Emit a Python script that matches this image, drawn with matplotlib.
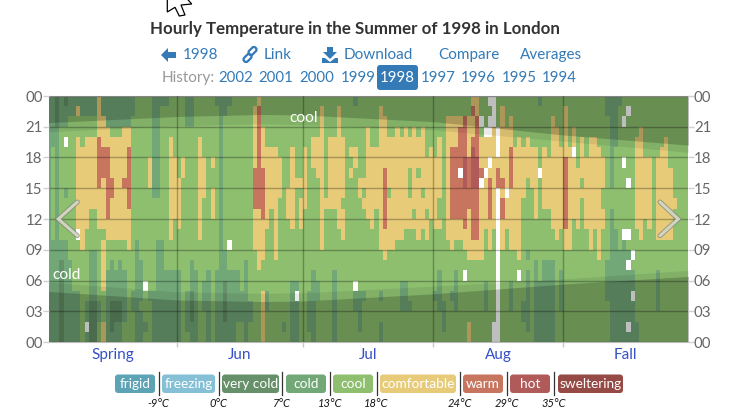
import numpy as np
import matplotlib
matplotlib.use('Agg')
import matplotlib.pyplot as plt
from matplotlib.colors import ListedColormap
from matplotlib.patches import FancyBboxPatch, Polygon
from matplotlib.transforms import Affine2D

plt.rcParams['font.family'] = 'Lato'

# each day is written top to bottom (hour 23 down to hour 0) as runs of a category
# g cool, k cold, v very cold, y comfortable, r warm, h hot, _ no reading
may_days = [
    "k24", "k5 g9 k10", "v3 k21", "k3 g11 k2 v8", "v1 k2 g1 _1 g4 k1 g4 k10", "k2 g14 k8",
    "k2 g17 k5", "k1 y1 g2 y9 _1 g5 k5", "k2 g3 y10 g9", "k2 g2 y9 g7 k2 _1 k1",
    "k2 g2 y7 g4 k5 v4", "k2 g2 y7 g4 k5 v4", "y4 r5 y4 g7 k2 g2", "k2 y3 r3 y5 g1 y5 g3 y2",
    "k3 y2 r7 y2 g3 k7", "k3 g1 y4 r2 y4 g2 k4 v3 k1", "k3 g1 y10 g3 k3 v2 k2",
    "k3 g1 y10 g2 k4 v2 k2", "k3 y5 r1 y5 g3 k5 g2", "k3 y2 r6 y4 g9", "k2 g17 k2 g3",
    "g14 k10", "g16 k4 g1 k3", "g18 _1 g3 k1 g1", "g6 y3 g10 k1 g4", "k10 g9 k5",
    "k10 g4 k10", "k1 g13 k10", "k1 g16 k7", "g4 y10 g3 k7", "g6 y6 g5 k7",
]
jun_days = [
    "g8 y5 g4 k7", "g6 y2 g16", "k3 g16 k4 g1", "k3 g13 k3 v3 k2", "g17 k7", "g4 y10 g10",
    "g6 y4 g8 k3 g3", "g17 k7", "g6 y1 g2 y3 g12", "k1 g16 k7", "k24", "k2 g13 k3 v4 k2",
    "k1 g13 _1 g2 k7", "g17 k7", "g17 k5 g2", "g19 k3 g2", "g16 k8", "g20 k2 g2",
    "g1 y6 r4 y4 g9", "y1 r10 y6 g7", "g3 y4 r5 y4 g3 y5", "g5 y8 g6 k2 g3", "g5 y6 g13",
    "g5 y11 g8", "g6 y4 g14", "g22 k1 g1", "g9 y3 g12", "g5 y8 g5 k6", "g8 y1 g9 k1 _1 k4",
    "g8 y1 g1 y3 g11",
]
jul_days = [
    "g5 y6 g13", "g19 k4 g1", "g4 y3 g10 k7", "g4 y4 g10 k2 g4", "g1 y14 g9", "g10 y1 g13",
    "g4 y7 g13", "g4 y7 g6 k7", "g1 y12 g11", "g4 y6 g1 y3 g10", "g24", "g5 y1 g1 y1 g16",
    "k1 g4 y2 g11 _1 k2 g3", "g8 y2 g9 k4 g1", "g8 y1 g1 y1 g8 k1 g4", "g3 y9 g12", "g5 y8 g11",
    "g5 y6 g13", "g1 y14 g4 k1 g2 k2", "g2 y5 r6 y3 g8", "g4 y5 g1 y5 g9", "g4 y11 g9",
    "g3 y11 g10", "g4 y10 g4 k3 g3", "g3 y10 g5 k3 g3", "g4 y3 g3 y3 g7 k1 g3",
    "g3 y8 g1 y1 g11", "g4 y3 g1 y6 g10", "g3 y6 g1 y3 g11", "g6 y5 g1 y2 g10", "g5 y7 g12",
]
aug_days = [
    "g6 y7 g6 k1 g4", "g4 y6 g2 y1 g4 k4 g3", "g20 k3 g1", "g2 y12 g10",
    "g2 y3 r7 y3 g4 k1 g4", "g2 y3 r7 y2 g3 k4 g3", "g2 y1 r4 _1 r4 y2 g10",
    "g2 r4 h3 r4 y2 g2 _1 g6", "g2 y4 r5 y5 g6 y2", "y1 r1 y2 r1 h4 r5 y2 g8", "y2 r4 h3 r5 y2 g8",
    "g2 _1 g1 y3 r1 _1 y7 g8", "g3 _1 y3 _1 y5 g5 k3 g3", "_1 g1 _2 y2 _1 y1 r4 y3 g9",
    "_3 y10 g9 _2", "g3 _3 y1 r2 _15", "g1 y7 r1 y1 r2 y3 g9", "g3 y6 _1 y3 g11",
    "g2 y3 r4 y6 g3 k3 g3", "g5 y10 g9", "g4 y12 g1 _1 g6", "g5 y5 g10 k2 g2",
    "g4 y4 g7 k1 g1 k6 g1", "g5 y4 g15", "g5 y7 g4 k8", "k1 g6 _1 g10 k6", "g5 y6 g5 k8",
    "g6 y5 g5 k8", "g2 y11 g3 k8", "g3 y11 g10", "g5 y8 g4 k4 g3",
]
sep_days = [
    "g1 y5 r7 y2 g9", "g5 y10 g9", "g3 y2 _1 y6 g12", "g7 y6 g11", "g4 y4 g1 y1 g14", "g6 y7 g11",
    "g4 y11 g9", "g4 y9 g11", "g5 y11 g8", "g6 y3 g2 y2 g11", "k2 g14 k4 g4", "k9 g2 k13",
    "k5 g8 k11", "k1 g14 k9", "g2 _1 g3 _1 g6 _1 k10", "g1 _1 g6 _1 g4 _1 g1 k1 _1 k5 _1 k1",
    "g15 _1 g1 k2 _1 k4", "g4 y9 g9 k2", "g3 y11 g10", "g6 y6 g12", "g6 y7 g11", "g24",
    "g6 y8 g3 k4 g3", "g5 y9 g10", "g4 y10 g10", "g7 y7 g10", "g10 y1 g13", "g24", "g24", "g24",
]

# sunrise and sunset hours through the season
sun_days = [0, 31, 51, 61, 92, 123, 153]
night_end = [4.95, 4.1, 3.95, 4.0, 4.7, 5.65, 6.4]
dawn_end = [5.85, 4.9, 4.75, 4.8, 5.45, 6.15, 7.0]
night_start = [21.4, 22.0, 22.2, 22.15, 21.5, 20.2, 19.2]
dusk_start = [20.5, 21.1, 21.3, 21.2, 20.7, 19.6, 18.5]

month_starts = [31, 61, 92, 123]
month_names = ['Spring', 'Jun', 'Jul', 'Aug', 'Fall']
hour_labels = ['00', '03', '06', '09', '12', '15', '18', '21', '00']
history_years = ['2002', '2001', '2000', '1999', '1998', '1997', '1996', '1995', '1994']

legend_names = ['frigid', 'freezing', 'very cold', 'cold', 'cool', 'comfortable', 'warm', 'hot', 'sweltering']
legend_colors = ['#5da3b6', '#85c0d6', '#659069', '#72a878', '#8dbf6f', '#e8cb78', '#c87560', '#b05a59', '#964a45']
legend_temps = ['-9°C', '0°C', '7°C', '13°C', '18°C', '24°C', '29°C', '35°C']

codes = 'vkgyrh'
code_colors = ['#659069', '#72a878', '#8dbf6f', '#e8cb78', '#c87560', '#b05a59']


def expand(day):
    cells = []
    for run in day.split():
        cells += [run[0]] * int(run[1:])
    assert len(cells) == 24, day
    return [codes.index(c) if c != '_' else -1 for c in cells[::-1]]


days = may_days + jun_days + jul_days + aug_days + sep_days
grid = np.ma.masked_less(np.array([expand(d) for d in days]).T, 0)

fig = plt.figure(figsize=(7.54, 4.15), dpi=100)
ax = fig.add_axes([49 / 754, 73 / 415, 638.7 / 754, 246 / 415])
ax.pcolormesh(np.arange(154), np.arange(25), grid, cmap=ListedColormap(code_colors),
              vmin=-0.5, vmax=5.5, antialiased=False, zorder=1)

# twilight first, then night on top of it
ax.fill_between(sun_days, 0, dawn_end, color='black', alpha=0.08, lw=0, zorder=2)
ax.fill_between(sun_days, 0, night_end, color='black', alpha=0.19, lw=0, zorder=2)
ax.fill_between(sun_days, dusk_start, 24, color='black', alpha=0.08, lw=0, zorder=2)
ax.fill_between(sun_days, night_start, 24, color='black', alpha=0.19, lw=0, zorder=2)

ax.set_xlim(0.524, 152.6)
ax.set_ylim(0, 24)
ax.set_yticks(range(0, 25, 3))
ax.set_yticklabels(hour_labels)
ax.set_xticks(month_starts)
ax.set_xticklabels([])
edges = [0.524] + month_starts + [152.6]
ax.set_xticks([(a + b) / 2 for a, b in zip(edges[:-1], edges[1:])], minor=True)
ax.set_xticklabels(month_names, minor=True, color='#3450c8', fontsize=11)
ax.tick_params(axis='x', which='major', length=3.5, width=1, color='#c8c8c8')
ax.tick_params(axis='x', which='minor', length=0, pad=4)
ax.tick_params(axis='y', length=4.5, width=1, color='#d0d0d0', labelcolor='#666666',
               labelsize=10.8, labelright=True, right=True, pad=0)
ax.grid(color='black', alpha=0.28, lw=1)
ax.set_axisbelow(False)
for side in ['left', 'right']:
    ax.spines[side].set_visible(False)
for side in ['top', 'bottom']:
    ax.spines[side].set_color('#bbbbbb')

# page furniture around the chart, placed in pixels
page = fig.add_axes([0, 0, 1, 1], zorder=5)
page.set_xlim(0, 754)
page.set_ylim(415, 0)
page.axis('off')
page.patch.set_visible(False)

blue = '#337ab7'
page.text(354.5, 29, 'Hourly Temperature in the Summer of 1998 in London', ha='center', va='center',
          fontsize=12.2, fontweight='bold', color='#333333')
for label, x in zip(['1998', 'Link', 'Download', 'Compare', 'Averages'], [183, 264, 344, 438, 520]):
    page.text(x, 55, label, ha='left', va='center', fontsize=11, color=blue)

# arrow, link and download icons
page.add_patch(Polygon([(161, 55), (168, 48), (168, 52), (176, 52), (176, 58), (168, 58), (168, 62)],
                       fc=blue, ec='none'))
for cx, cy in [(252.5, 51), (247.5, 58)]:
    link = FancyBboxPatch((cx - 2.5, cy - 4.5), 5, 9, boxstyle='round,pad=0,rounding_size=2.3',
                          fc='none', ec=blue, lw=1.6)
    link.set_transform(Affine2D().rotate_deg_around(cx, cy, 45) + page.transData)
    page.add_patch(link)
page.add_patch(Polygon([(327, 47), (333, 47), (333, 52), (337, 52), (330, 59), (323, 52), (327, 52)],
                       fc=blue, ec='none'))
page.add_patch(Polygon([(322, 58), (325, 58), (330, 62), (335, 58), (338, 58), (338, 63), (322, 63)],
                       fc=blue, ec='none'))

page.text(162, 78, 'History:', ha='left', va='center', fontsize=11, color='#999999')
page.add_patch(FancyBboxPatch((377, 65), 41, 25, boxstyle='round,pad=0,rounding_size=3', fc=blue, ec='none'))
for year, x in zip(history_years, [236, 276, 317, 358, 397.5, 438, 478, 519, 559]):
    page.text(x, 78, year, ha='center', va='center', fontsize=10.8,
              color='white' if year == '1998' else blue)

# mouse pointer at the top edge
page.add_patch(Polygon([(167.3, -1), (167.3, 12), (175, 7.3), (179.3, 16), (185, 15), (181, 5),
                        (191.7, 4), (187.3, -1)], fc='white', ec='black', lw=0.9, clip_on=True))

page.text(304, 118, 'cool', ha='center', va='center', fontsize=11.2, color='white')
page.text(67, 275, 'cold', ha='center', va='center', fontsize=11.2, color='white')

# previous and next chevrons
for xs in [(77.3, 58.3, 77.3), (660, 678.3, 660)]:
    page.plot(xs, (202, 219, 235.7), color='#7f8a78', lw=3.6, alpha=0.75, solid_capstyle='round',
              solid_joinstyle='miter')
    page.plot(xs, (202, 219, 235.7), color='#d6d8c6', lw=2.2, alpha=0.95, solid_capstyle='round',
              solid_joinstyle='miter')

# temperature legend
badge_lefts = [115, 162, 222, 286, 333, 380, 463, 510, 558]
badge_rights = [155, 215, 279, 326, 373, 456, 503, 550, 623]
separators = [158.6, 218.6, 282.4, 329.7, 376.6, 459.7, 507, 553.8]
for name, color, x0, x1 in zip(legend_names, legend_colors, badge_lefts, badge_rights):
    page.add_patch(FancyBboxPatch((x0, 374.5), x1 - x0, 18.5, boxstyle='round,pad=0,rounding_size=3',
                                  fc=color, ec='none'))
    page.text((x0 + x1) / 2, 383.5, name, ha='center', va='center', fontsize=9.8, color='white')
for x, temp in zip(separators, legend_temps):
    page.plot([x, x], [371.7, 395], color='#333333', lw=0.9)
    page.text(x, 403, temp, ha='center', va='center', fontsize=8, style='italic', color='#111111')

fig.savefig('out.png', dpi=100)
